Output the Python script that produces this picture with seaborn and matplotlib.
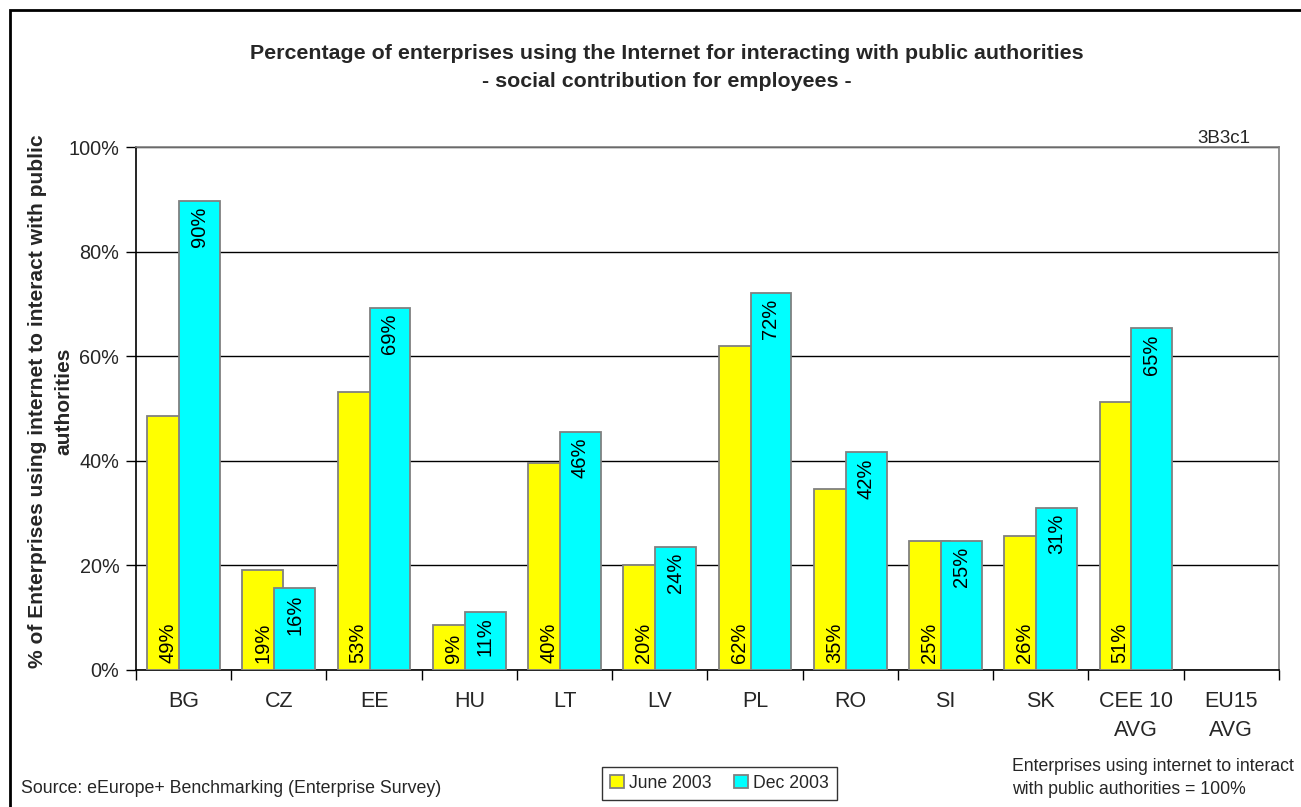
import numpy as np
import pandas as pd
import matplotlib
matplotlib.use("Agg")
import matplotlib.pyplot as plt
import seaborn as sns
from matplotlib.ticker import FuncFormatter, FixedLocator
from matplotlib.patches import Rectangle

countries = ["BG", "CZ", "EE", "HU", "LT", "LV", "PL", "RO", "SI", "SK", "CEE 10\nAVG", "EU15\nAVG"]
june_2003 = [48.6, 19.2, 53.1, 8.6, 39.5, 20.1, 61.9, 34.6, 24.7, 25.7, 51.3, np.nan]
dec_2003 = [89.7, 15.6, 69.3, 11.1, 45.6, 23.6, 72.0, 41.6, 24.6, 31.0, 65.3, np.nan]
series = ["June 2003", "Dec 2003"]
colors = ["#FFFF00", "#00FFFF"]

df = pd.DataFrame({
    "country": countries * 2,
    "value": june_2003 + dec_2003,
    "period": [series[0]] * len(countries) + [series[1]] * len(countries),
})

sns.set_theme(style="white")
plt.rcParams["font.family"] = ["Liberation Sans", "DejaVu Sans"]

fig = plt.figure(figsize=(13.01, 8.07), dpi=100)
ax = fig.add_axes([0.1045, 0.1698, 0.8785, 0.648])

sns.barplot(data=df, x="country", y="value", hue="period", palette=colors,
            width=0.67, dodge=True, ax=ax, edgecolor="#808080", linewidth=1.3,
            saturation=1, legend=True, errorbar=None, zorder=3)

bar_w = 0.43
for p in ax.patches:
    if np.isnan(p.get_height()) or p.get_height() == 0:
        continue
    cx = p.get_x() + p.get_width() / 2
    p.set_x(cx - bar_w / 2)
    p.set_width(bar_w)

# data labels
for i, c in enumerate(countries):
    for j, vals in enumerate([june_2003, dec_2003]):
        v = vals[i]
        if np.isnan(v):
            continue
        off = -0.167 if j == 0 else 0.167
        if j == 0:
            ax.text(i + off, 1.3, f"{v:.0f}%", rotation=90, ha="center", va="bottom",
                    fontsize=14.5, color="black", zorder=5)
        else:
            ax.text(i + off, v - 1.1, f"{v:.0f}%", rotation=90, ha="center", va="top",
                    fontsize=14.5, color="black", zorder=5)

ax.set_xlim(-0.5, len(countries) - 0.5)
ax.set_ylim(0, 100)
ax.yaxis.set_major_locator(FixedLocator([0, 20, 40, 60, 80, 100]))
ax.yaxis.set_major_formatter(FuncFormatter(lambda v, p: f"{v:.0f}%"))
ax.set_axisbelow(True)
ax.yaxis.grid(True, color="black", linewidth=1.0)
ax.xaxis.grid(False)

ax.set_xticks(range(len(countries)))
ax.set_xticklabels(countries, fontsize=15.5, linespacing=1.5)
ax.set_xticks(np.arange(-0.5, len(countries)), minor=True)
ax.tick_params(axis="x", which="major", length=0, pad=15)
ax.tick_params(axis="x", which="minor", length=7, width=1, color="black", direction="out", bottom=True)
ax.tick_params(axis="y", which="major", length=7, width=1, color="black", direction="out", left=True, labelsize=14.3, pad=5)

for side in ["left", "bottom"]:
    ax.spines[side].set_color("black")
    ax.spines[side].set_linewidth(1.2)
for side in ["top", "right"]:
    ax.spines[side].set_color("#808080")
    ax.spines[side].set_linewidth(1.2)

ax.set_xlabel("")
ax.set_ylabel("% of Enterprises using internet to interact with public\nauthorities",
              fontsize=15.1, fontweight="bold", linespacing=1.45)
ax.yaxis.set_label_coords(-0.0550, 0.514)

title_x = 0.5127
fig.text(title_x, 0.934, "Percentage of enterprises using the Internet for interacting with public authorities",
         ha="center", va="center", fontsize=15.4, fontweight="bold")
fig.text(title_x, 0.899, "- social contribution for employees -",
         ha="center", va="center", fontsize=15.4, fontweight="bold")
fig.text(0.961, 0.828, "3B3c1", ha="right", va="center", fontsize=13.5)

fig.text(0.016, 0.023, "Source: eEurope+ Benchmarking (Enterprise Survey)", ha="left", va="center", fontsize=12.75)
fig.text(0.778, 0.036, "Enterprises using internet to interact\nwith public authorities = 100%",
         ha="left", va="center", fontsize=12.7, linespacing=1.42)

leg = ax.legend(loc="center", bbox_to_anchor=(0.5530, 0.0290), bbox_transform=fig.transFigure,
                ncol=2, frameon=True, fancybox=False, fontsize=12.7, handlelength=0.75,
                handleheight=0.75, handletextpad=0.3, columnspacing=1.3, borderpad=0.45)
leg.get_frame().set_edgecolor("black")
leg.get_frame().set_linewidth(1.0)
for h in leg.legend_handles:
    h.set_edgecolor("#808080")

fig.patches.append(Rectangle((10 / 1301, -0.1), 1.2, 1 - 10 / 807 + 0.1, transform=fig.transFigure,
                             fill=False, edgecolor="black", linewidth=2.0))

fig.savefig("out.png", dpi=100)
